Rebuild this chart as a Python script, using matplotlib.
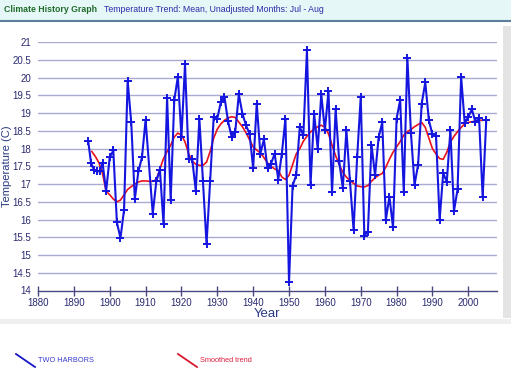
import matplotlib
matplotlib.use("Agg")
import matplotlib.pyplot as plt
from matplotlib.lines import Line2D
from matplotlib.patches import Rectangle

# observed mean temperature, Jul - Aug, Two Harbors
years = [1894, 1894.8, 1895.6, 1896.4, 1897.2, 1898, 1899, 1900, 1901, 1902,
         1903, 1904, 1905, 1906, 1907, 1908, 1909, 1910, 1912, 1913,
         1914, 1915, 1916, 1917, 1918, 1919, 1920, 1921, 1922, 1923,
         1924, 1925, 1926, 1927, 1928, 1929, 1930, 1931, 1932, 1933,
         1934, 1935, 1936, 1937, 1938, 1939, 1940, 1941, 1942, 1943,
         1944, 1945, 1946, 1947, 1948, 1949, 1950, 1951, 1952, 1953,
         1954, 1955, 1956, 1957, 1958, 1959, 1960, 1961, 1962, 1963,
         1964, 1965, 1966, 1967, 1968, 1969, 1970, 1971, 1972, 1973,
         1974, 1975, 1976, 1977, 1978, 1979, 1980, 1981, 1982, 1983,
         1984, 1985, 1986, 1987, 1988, 1989, 1990, 1991, 1992, 1993,
         1994, 1995, 1996, 1997, 1998, 1999, 2000, 2001, 2002, 2003,
         2004, 2005]
temps = [18.21, 17.59, 17.41, 17.36, 17.36, 17.60, 16.80, 17.76, 17.95, 15.92,
         15.48, 16.28, 19.92, 18.74, 16.58, 17.36, 17.76, 18.81, 16.17, 17.08,
         17.41, 15.87, 19.44, 16.55, 19.37, 20.03, 18.33, 20.38, 17.70, 17.70,
         16.82, 18.85, 17.08, 15.31, 17.08, 18.90, 18.85, 19.32, 19.46, 18.77,
         18.33, 18.47, 19.53, 18.99, 18.66, 18.42, 17.45, 19.27, 17.86, 18.26,
         17.45, 17.58, 17.86, 17.13, 17.86, 18.85, 14.23, 16.96, 17.25, 18.61,
         18.38, 20.78, 16.98, 18.99, 18.00, 19.53, 18.52, 19.62, 16.77, 19.11,
         17.64, 16.89, 18.52, 17.08, 15.71, 17.76, 19.46, 15.55, 15.66, 18.11,
         17.25, 18.33, 18.74, 15.99, 16.65, 15.78, 18.85, 19.37, 16.79, 20.57,
         18.45, 16.98, 17.55, 19.27, 19.87, 18.80, 18.40, 18.36, 15.99, 17.32,
         17.06, 18.52, 16.24, 16.85, 20.03, 18.71, 18.90, 19.11, 18.74, 18.87,
         16.63, 18.80]

# smoothed trend
trend_years = list(range(1895, 2005))
trend = [17.92, 17.78, 17.60, 17.30, 16.80, 16.70, 16.58, 16.50, 16.55, 16.70,
         16.85, 16.93, 17.00, 17.06, 17.09, 17.09, 17.08, 17.08, 17.13, 17.43,
         17.72, 17.92, 18.10, 18.33, 18.44, 18.38, 18.19, 17.86, 17.65, 17.56,
         17.53, 17.53, 17.62, 17.92, 18.30, 18.55, 18.70, 18.80, 18.87, 18.90,
         18.88, 18.75, 18.62, 18.45, 18.25, 18.05, 17.96, 17.88, 17.75, 17.60,
         17.50, 17.43, 17.38, 17.20, 17.13, 17.25, 17.55, 17.85, 18.00, 18.21,
         18.35, 18.47, 18.55, 18.62, 18.66, 18.61, 18.42, 18.10, 17.80, 17.55,
         17.33, 17.20, 17.10, 17.02, 16.95, 16.93, 16.92, 16.96, 17.08, 17.18,
         17.25, 17.30, 17.48, 17.70, 17.90, 18.05, 18.20, 18.38, 18.48, 18.54,
         18.62, 18.68, 18.74, 18.60, 18.30, 18.00, 17.85, 17.72, 17.70, 17.90,
         18.18, 18.35, 18.48, 18.60, 18.70, 18.74, 18.76, 18.78, 18.80, 18.80]

x_ticks = list(range(1880, 2001, 10))
y_ticks = [14 + 0.5 * i for i in range(15)]

W, H = 511, 377
fig = plt.figure(figsize=(W / 100, H / 100), dpi=100)
fig.patch.set_facecolor("white")
plt.rcParams["font.family"] = ["Liberation Sans", "DejaVu Sans"]

# header band
fig.add_artist(Rectangle((0, 1 - 20 / H), 1, 20 / H, transform=fig.transFigure,
                         facecolor="#e6f7f8", edgecolor="none"))
fig.add_artist(Line2D([0, 1], [1 - 21 / H, 1 - 21 / H], transform=fig.transFigure,
                      color="#5b7e9c", lw=1.5))
fig.text(4 / W, 1 - 10 / H, "Climate History Graph", color="#1f6b2a",
         fontsize=6.3, fontweight="bold", va="center")
fig.text(104 / W, 1 - 10 / H, "Temperature Trend: Mean, Unadjusted Months: Jul - Aug",
         color="#2b2ba8", fontsize=6.3, va="center")

# panel shadow (behind the axes)
fig.add_artist(Rectangle((503 / W, 1 - 318 / H), 8 / W, 292 / H, transform=fig.transFigure,
                         facecolor="#e4e4e4", edgecolor="none", zorder=-1))
fig.add_artist(Rectangle((0, 1 - 324 / H), 511 / W, 5 / H, transform=fig.transFigure,
                         facecolor="#efefef", edgecolor="none", zorder=-1))

ax = fig.add_axes([38 / W, 1 - 290.5 / H, 459 / W, 248.2 / H])
ax.patch.set_alpha(0)
ax.set_xlim(1880, 2008)
ax.set_ylim(14, 21)
for t in y_ticks[1:]:
    ax.axhline(t, color="#a9a9d2", lw=1.0, zorder=0)

ax.plot(trend_years, trend, color="#e8121c", lw=1.2, zorder=2)
ax.plot(years, temps, color="#1515e0", lw=1.5, marker="+", ms=6, mew=1.4, zorder=3)

for s in ["top", "right", "left"]:
    ax.spines[s].set_visible(False)
ax.spines["bottom"].set_color("#4a4a80")
ax.spines["bottom"].set_linewidth(1.0)

ax.set_xticks(x_ticks)
ax.set_yticks(y_ticks)
ax.set_yticklabels([f"{t:g}" for t in y_ticks])
ax.tick_params(axis="x", direction="inout", length=7, width=1, color="#4a4a80",
               labelsize=7, labelcolor="#2a2a70", pad=2)
ax.tick_params(axis="y", length=0, labelsize=7, labelcolor="#2a2a70", pad=5)

ax.set_xlabel("Year", fontsize=9.5, color="#2a3a80", labelpad=0)
fig.text(7 / W, 1 - 166 / H, "Temperature (C)", fontsize=8, color="#2a3a80",
         rotation=90, ha="center", va="center")

# legend
fig.add_artist(Line2D([16 / W, 35 / W], [1 - 354 / H, 1 - 367 / H], transform=fig.transFigure,
                      color="#1515c8", lw=1.3))
fig.text(38 / W, 1 - 360 / H, "TWO HARBORS", color="#3a3ad0", fontsize=5.3, va="center")
fig.add_artist(Line2D([178 / W, 197 / W], [1 - 354 / H, 1 - 367 / H], transform=fig.transFigure,
                      color="#d81830", lw=1.3))
fig.text(200 / W, 1 - 360 / H, "Smoothed trend", color="#e02040", fontsize=5.3, va="center")

fig.savefig("out.png", dpi=100)
